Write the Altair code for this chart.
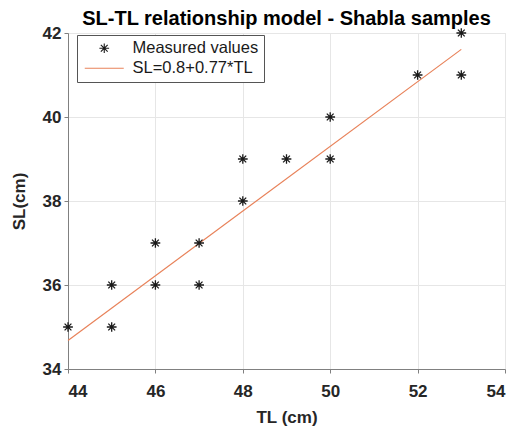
import altair as alt
import pandas as pd

# Measured fish lengths (cm)
tl_values = [44, 45, 45, 46, 46, 47, 47, 48, 48, 49, 50, 50, 52, 53, 53]
sl_values = [35, 35, 36, 36, 37, 36, 37, 38, 39, 39, 39, 40, 41, 41, 42]

# Fitted model SL = a + b*TL, drawn over the measured TL range
fit_a = 0.8
fit_b = 0.77
fit_tl = [44, 53]

series_points = "Measured values"
series_fit = "SL=0.8+0.77*TL"

x_ticks = [44, 46, 48, 50, 52, 54]
y_ticks = [34, 36, 38, 40, 42]

# Eight-armed asterisk marker and a long horizontal stroke for the legend
STAR = "M-1,0L1,0M0,-1L0,1M-0.7,-0.7L0.7,0.7M-0.7,0.7L0.7,-0.7"
HLINE = "M-4,0L4,0"
MARKER_SIZE = 95
FONT = "Liberation Sans"

points = pd.DataFrame({"TL": tl_values, "SL": sl_values, "series": series_points})
fit = pd.DataFrame({
    "TL": fit_tl,
    "SL": [fit_a + fit_b * t for t in fit_tl],
    "series": series_fit,
})

domain = [series_points, series_fit]

x_enc = alt.X(
    "TL:Q",
    scale=alt.Scale(domain=[44, 54], nice=False, zero=False),
    axis=alt.Axis(values=x_ticks, title="TL (cm)"),
)
y_enc = alt.Y(
    "SL:Q",
    scale=alt.Scale(domain=[34, 42], nice=False, zero=False),
    axis=alt.Axis(values=y_ticks, title="SL(cm)"),
)

legend = alt.Legend(
    title=None,
    orient="none",
    legendX=9,
    legendY=2,
    direction="vertical",
    labelFont=FONT,
    labelFontSize=16.5,
    labelColor="#1a1a1a",
    strokeColor="#555555",
    fillColor="white",
    padding=5,
    rowPadding=3,
    symbolOffset=14,
    labelOffset=20,
    symbolSize=MARKER_SIZE,
    symbolStrokeWidth=1.1,
)

color_scale = alt.Scale(domain=domain, range=["#1a1a1a", "#e8825a"])
shape_scale = alt.Scale(domain=domain, range=[STAR, HLINE])

stars = alt.Chart(points).mark_point(
    filled=False, strokeWidth=1.3, opacity=1, size=MARKER_SIZE
).encode(
    x=x_enc,
    y=y_enc,
    color=alt.Color("series:N", scale=color_scale, legend=legend),
    shape=alt.Shape("series:N", scale=shape_scale, legend=legend),
)

fit_line = alt.Chart(fit).mark_line(strokeWidth=1.2).encode(
    x=x_enc,
    y=y_enc,
    color=alt.Color("series:N", scale=color_scale, legend=legend),
)

chart = (
    alt.layer(fit_line, stars)
    .properties(
        width=437,
        height=336,
        title=alt.TitleParams(
            "SL-TL relationship model - Shabla samples",
            font=FONT,
            fontSize=20,
            fontWeight="bold",
            color="black",
            anchor="middle",
            offset=-5,
        ),
        autosize=alt.AutoSizeParams(type="none"),
        padding={"left": 68, "top": 33, "right": 22, "bottom": 64},
    )
    .configure_view(stroke="#e0e0e0", strokeWidth=1)
    .configure_axis(
        labelFont=FONT,
        labelFontSize=17,
        labelFontWeight="bold",
        labelColor="#262626",
        titleFont=FONT,
        titleFontSize=17,
        titleFontWeight="bold",
        titleColor="#262626",
        domainColor="#808080",
        tickColor="#808080",
        tickSize=4,
        gridColor="#e6e6e6",
    )
    .configure_axisX(labelPadding=10, titlePadding=10)
    .configure_axisY(labelPadding=3, titlePadding=14)
)

chart.save("out.html", embed_options={"renderer": "svg", "actions": False})
